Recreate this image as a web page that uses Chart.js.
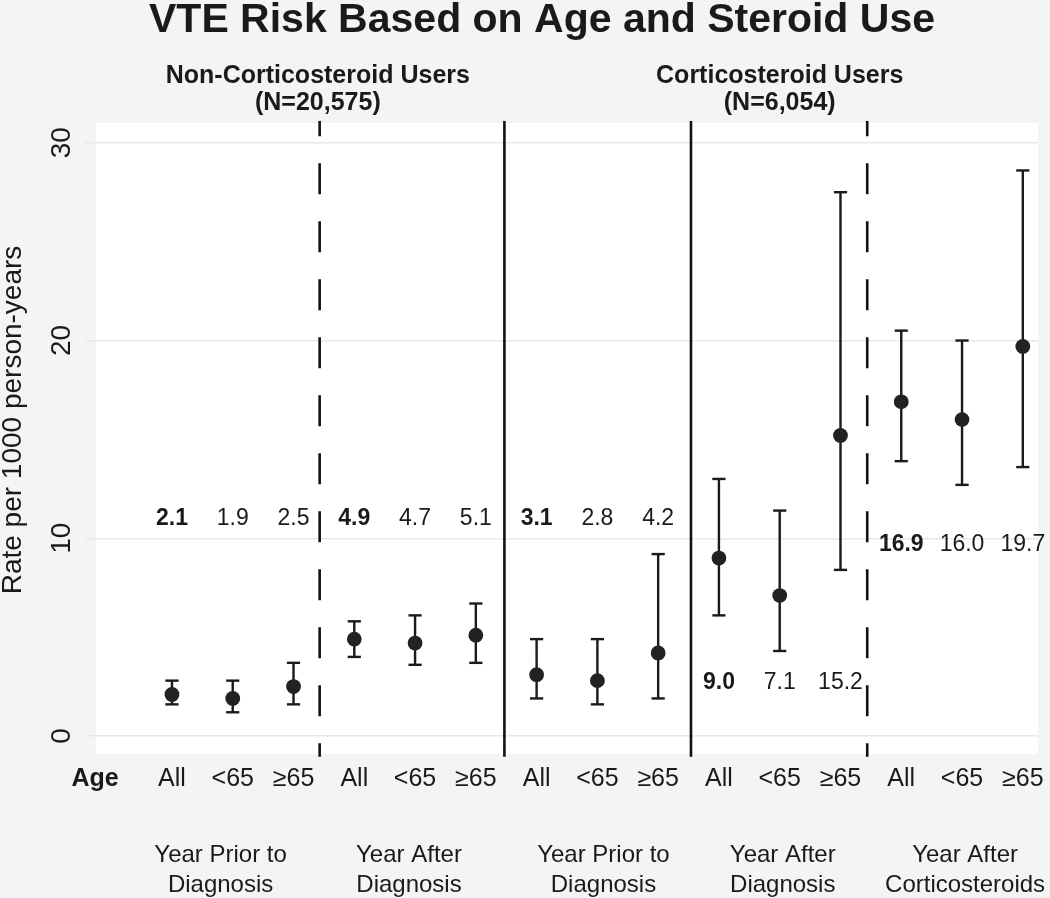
<!DOCTYPE html>
<html>
<head>
<meta charset="utf-8">
<script src="https://cdn.jsdelivr.net/npm/chart.js@4.4.0/dist/chart.umd.min.js"></script>
<style>
html, body { margin: 0; padding: 0; background: #f4f4f4; }
</style>
</head>
<body>
<canvas id="VteChart" width="1050" height="898"></canvas>
<script>
// positions of the 15 estimates along the x axis
const xPos = [1, 2, 3, 4, 5, 6, 7, 8, 9, 10, 11, 12, 13, 14, 15];
const ageLabels = ['All', '<65', '≥65', 'All', '<65', '≥65', 'All', '<65', '≥65',
    'All', '<65', '≥65', 'All', '<65', '≥65'];
// VTE rate per 1000 person-years and 95% CI
const rates = [2.1, 1.9, 2.5, 4.9, 4.7, 5.1, 3.1, 2.8, 4.2, 9.0, 7.1, 15.2, 16.9, 16.0, 19.7];
const lowerCI = [1.6, 1.2, 1.6, 4.0, 3.6, 3.7, 1.9, 1.6, 1.9, 6.1, 4.3, 8.4, 13.9, 12.7, 13.6];
const upperCI = [2.8, 2.8, 3.7, 5.8, 6.1, 6.7, 4.9, 4.9, 9.2, 13.0, 11.4, 27.5, 20.5, 20.0, 28.6];

const periodLabels = [['Year Prior to', 'Diagnosis'], ['Year After', 'Diagnosis'],
    ['Year Prior to', 'Diagnosis'], ['Year After', 'Diagnosis'], ['Year After', 'Corticosteroids']];
const cohortLabels = [['Non-Corticosteroid Users', '(N=20,575)'], ['Corticosteroid Users', '(N=6,054)']];
const yTicks = [0, 10, 20, 30];

// layout bits (in axis units)
const periodCenters = [1.8, 4.9, 8.1, 11.05, 14.05];
const cohortCenters = [3.4, 11.0];
const valueRowY = [11.0, 11.0, 11.0, 2.7, 9.7];
const dividerX = [3.43, 6.47, 9.54, 12.44];
const dividerDashed = [true, false, false, true];

const FONT = '"Liberation Sans", Arial, Helvetica, sans-serif';
const INK = '#1a1a1a';

// whiskers: one line with gaps between the estimates
const whiskerData = [];
for (let i = 0; i < xPos.length; i++) {
    whiskerData.push({x: xPos[i], y: lowerCI[i]});
    whiskerData.push({x: xPos[i], y: upperCI[i]});
    whiskerData.push({x: xPos[i], y: null});
}
const capData = [];
for (let i = 0; i < xPos.length; i++) {
    capData.push({x: xPos[i], y: lowerCI[i]});
    capData.push({x: xPos[i], y: upperCI[i]});
}
const pointData = xPos.map((x, i) => ({x: x, y: rates[i]}));

const dividerSets = dividerX.map((x, i) => ({
    type: 'line',
    data: [{x: x, y: 31.1}, {x: x, y: -1.05}],
    borderColor: '#111',
    borderWidth: 2.6,
    borderDash: dividerDashed[i] ? [31, 27] : [],
    borderDashOffset: 15.7,
    pointRadius: 0,
    clip: false
}));

const textPlugin = {
    id: 'textPlugin',
    beforeDraw(chart) {
        const ctx = chart.ctx;
        const a = chart.chartArea;
        ctx.save();
        ctx.fillStyle = '#f4f4f4';
        ctx.fillRect(0, 0, chart.width, chart.height);
        ctx.fillStyle = '#ffffff';
        ctx.fillRect(a.left, a.top, a.right - a.left, a.bottom - a.top);
        ctx.restore();
    },
    afterDraw(chart) {
        const ctx = chart.ctx;
        const xs = chart.scales.x;
        const ys = chart.scales.y;
        ctx.save();
        ctx.fillStyle = INK;
        ctx.textAlign = 'center';

        // title
        ctx.font = 'bold 41px ' + FONT;
        ctx.textBaseline = 'alphabetic';
        ctx.fillText('VTE Risk Based on Age and Steroid Use', 542, 32);

        // cohort headers
        ctx.font = 'bold 25px ' + FONT;
        cohortLabels.forEach((lines, i) => {
            const px = xs.getPixelForValue(cohortCenters[i]);
            ctx.fillText(lines[0], px, 83);
            ctx.fillText(lines[1], px, 110);
        });

        // estimate values
        ctx.textBaseline = 'middle';
        rates.forEach((r, i) => {
            ctx.font = (i % 3 === 0 ? 'bold ' : '') + '23px ' + FONT;
            const py = ys.getPixelForValue(valueRowY[Math.floor(i / 3)]);
            ctx.fillText(r.toFixed(1), xs.getPixelForValue(xPos[i]), py);
        });

        // age row
        ctx.textBaseline = 'alphabetic';
        ctx.font = '25px ' + FONT;
        ageLabels.forEach((lab, i) => {
            ctx.fillText(lab, xs.getPixelForValue(xPos[i]), 786);
        });
        ctx.font = 'bold 25px ' + FONT;
        ctx.fillText('Age', 95, 786);

        // period labels
        ctx.font = '24px ' + FONT;
        periodLabels.forEach((lines, i) => {
            const px = xs.getPixelForValue(periodCenters[i]);
            ctx.fillText(lines[0], px, 862);
            ctx.fillText(lines[1], px, 892);
        });

        // y ticks and title, rotated
        ctx.textBaseline = 'middle';
        ctx.font = '28px ' + FONT;
        yTicks.forEach(t => {
            ctx.save();
            ctx.translate(62, ys.getPixelForValue(t));
            ctx.rotate(-Math.PI / 2);
            ctx.fillText(String(t), 0, 0);
            ctx.restore();
        });
        ctx.font = '28px ' + FONT;
        ctx.save();
        ctx.translate(13, 420);
        ctx.rotate(-Math.PI / 2);
        ctx.fillText('Rate per 1000 person-years', 0, 0);
        ctx.restore();

        ctx.restore();
    }
};

let vteChart = new Chart(document.getElementById('VteChart').getContext('2d'), {
    type: 'scatter',
    data: {
        datasets: [
            {
                type: 'scatter',
                data: pointData,
                pointStyle: 'circle',
                pointRadius: 7.4,
                backgroundColor: '#222',
                borderColor: '#222',
                borderWidth: 0
            },
            {
                type: 'scatter',
                data: capData,
                pointStyle: 'line',
                pointRadius: 6.6,
                borderColor: INK,
                borderWidth: 2.4
            },
            {
                type: 'line',
                data: whiskerData,
                borderColor: INK,
                borderWidth: 2.4,
                pointRadius: 0,
                spanGaps: false
            },
            ...dividerSets
        ]
    },
    options: {
        responsive: false,
        devicePixelRatio: 1,
        animation: false,
        layout: {
            padding: {left: 85, right: 12, top: 123, bottom: 144}
        },
        scales: {
            x: {
                type: 'linear',
                min: -0.25,
                max: 15.25,
                display: false
            },
            y: {
                type: 'linear',
                min: -0.91,
                max: 31.0,
                ticks: {stepSize: 10, includeBounds: false, display: false},
                grid: {color: '#e8e8e8', lineWidth: 1.5, drawTicks: true, tickLength: 11},
                border: {display: false},
                afterFit: function(scale) { scale.width = 11; }
            }
        },
        plugins: {
            legend: {display: false},
            tooltip: {enabled: false},
            title: {display: false}
        }
    },
    plugins: [textPlugin]
});
</script>
</body>
</html>
